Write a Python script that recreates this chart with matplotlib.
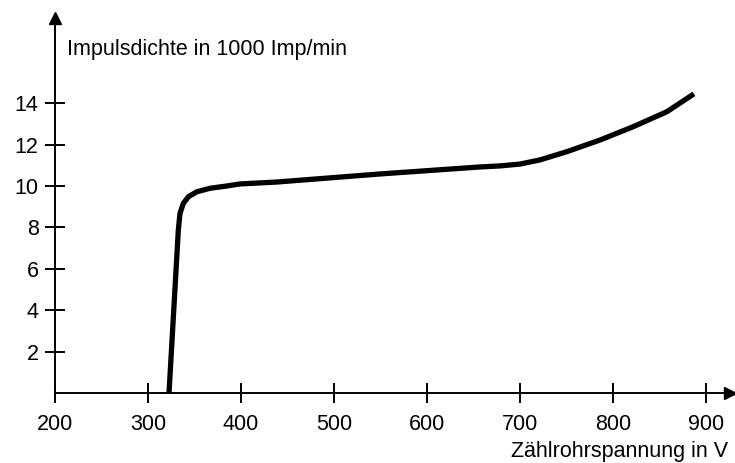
import matplotlib
matplotlib.use("Agg")
import matplotlib.pyplot as plt

# Zählrohr-Charakteristik
spannung = [322.6, 332.6, 334.4, 338, 343.4, 352.4, 366.7, 384.6, 399, 438, 549, 657,
            678.5, 700, 721.5, 750.5, 786, 821.5, 858, 887]
impulse = [0.0, 7.87, 8.68, 9.16, 9.48, 9.72, 9.89, 10.0, 10.1, 10.19, 10.58, 10.92,
           10.97, 11.06, 11.26, 11.66, 12.22, 12.86, 13.59, 14.45]

x_ticks = [200, 300, 400, 500, 600, 700, 800, 900]
y_ticks = [2, 4, 6, 8, 10, 12, 14]

plt.rcParams['font.family'] = ['Liberation Sans', 'DejaVu Sans']

W, H = 735, 463
fig = plt.figure(figsize=(W / 100, H / 100), dpi=100)
# axis origin at pixel (55, 393); arrows end near x=735 and y=13
ax = fig.add_axes([55 / W, (H - 393) / H, 675 / W, 375 / H])
px_per_100v = 93.0
px_per_unit = 20.7
ax.set_xlim(200, 200 + 675 / px_per_100v * 100)
ax.set_ylim(0, 375 / px_per_unit)

ax.plot(spannung, impulse, color='black', lw=3.8, solid_capstyle='butt',
        solid_joinstyle='round', clip_on=False)

for s in ['top', 'right']:
    ax.spines[s].set_visible(False)
for s in ['left', 'bottom']:
    ax.spines[s].set_linewidth(1.4)

x0, x1 = ax.get_xlim()
y0, y1 = ax.get_ylim()
ax.plot([x1], [y0], marker='>', color='black', markersize=8, clip_on=False)
ax.plot([x0], [y1], marker='^', color='black', markersize=8, clip_on=False)

ax.set_xticks(x_ticks)
ax.set_xticklabels([str(v) for v in x_ticks])
ax.set_yticks(y_ticks)
ax.set_yticklabels([str(v) for v in y_ticks])
ax.tick_params(axis='both', direction='inout', length=14.4, width=1.4,
               labelsize=15.5, colors='black')
ax.tick_params(axis='x', pad=8)
ax.tick_params(axis='y', pad=4.5)

fig.text(67 / W, 1 - 50 / H, 'Impulsdichte in 1000 Imp/min', fontsize=15.5,
         ha='left', va='center')
fig.text(728 / W, 1 - 452 / H, 'Zählrohrspannung in V', fontsize=15.5,
         ha='right', va='center')

fig.savefig('out.png', dpi=100)
